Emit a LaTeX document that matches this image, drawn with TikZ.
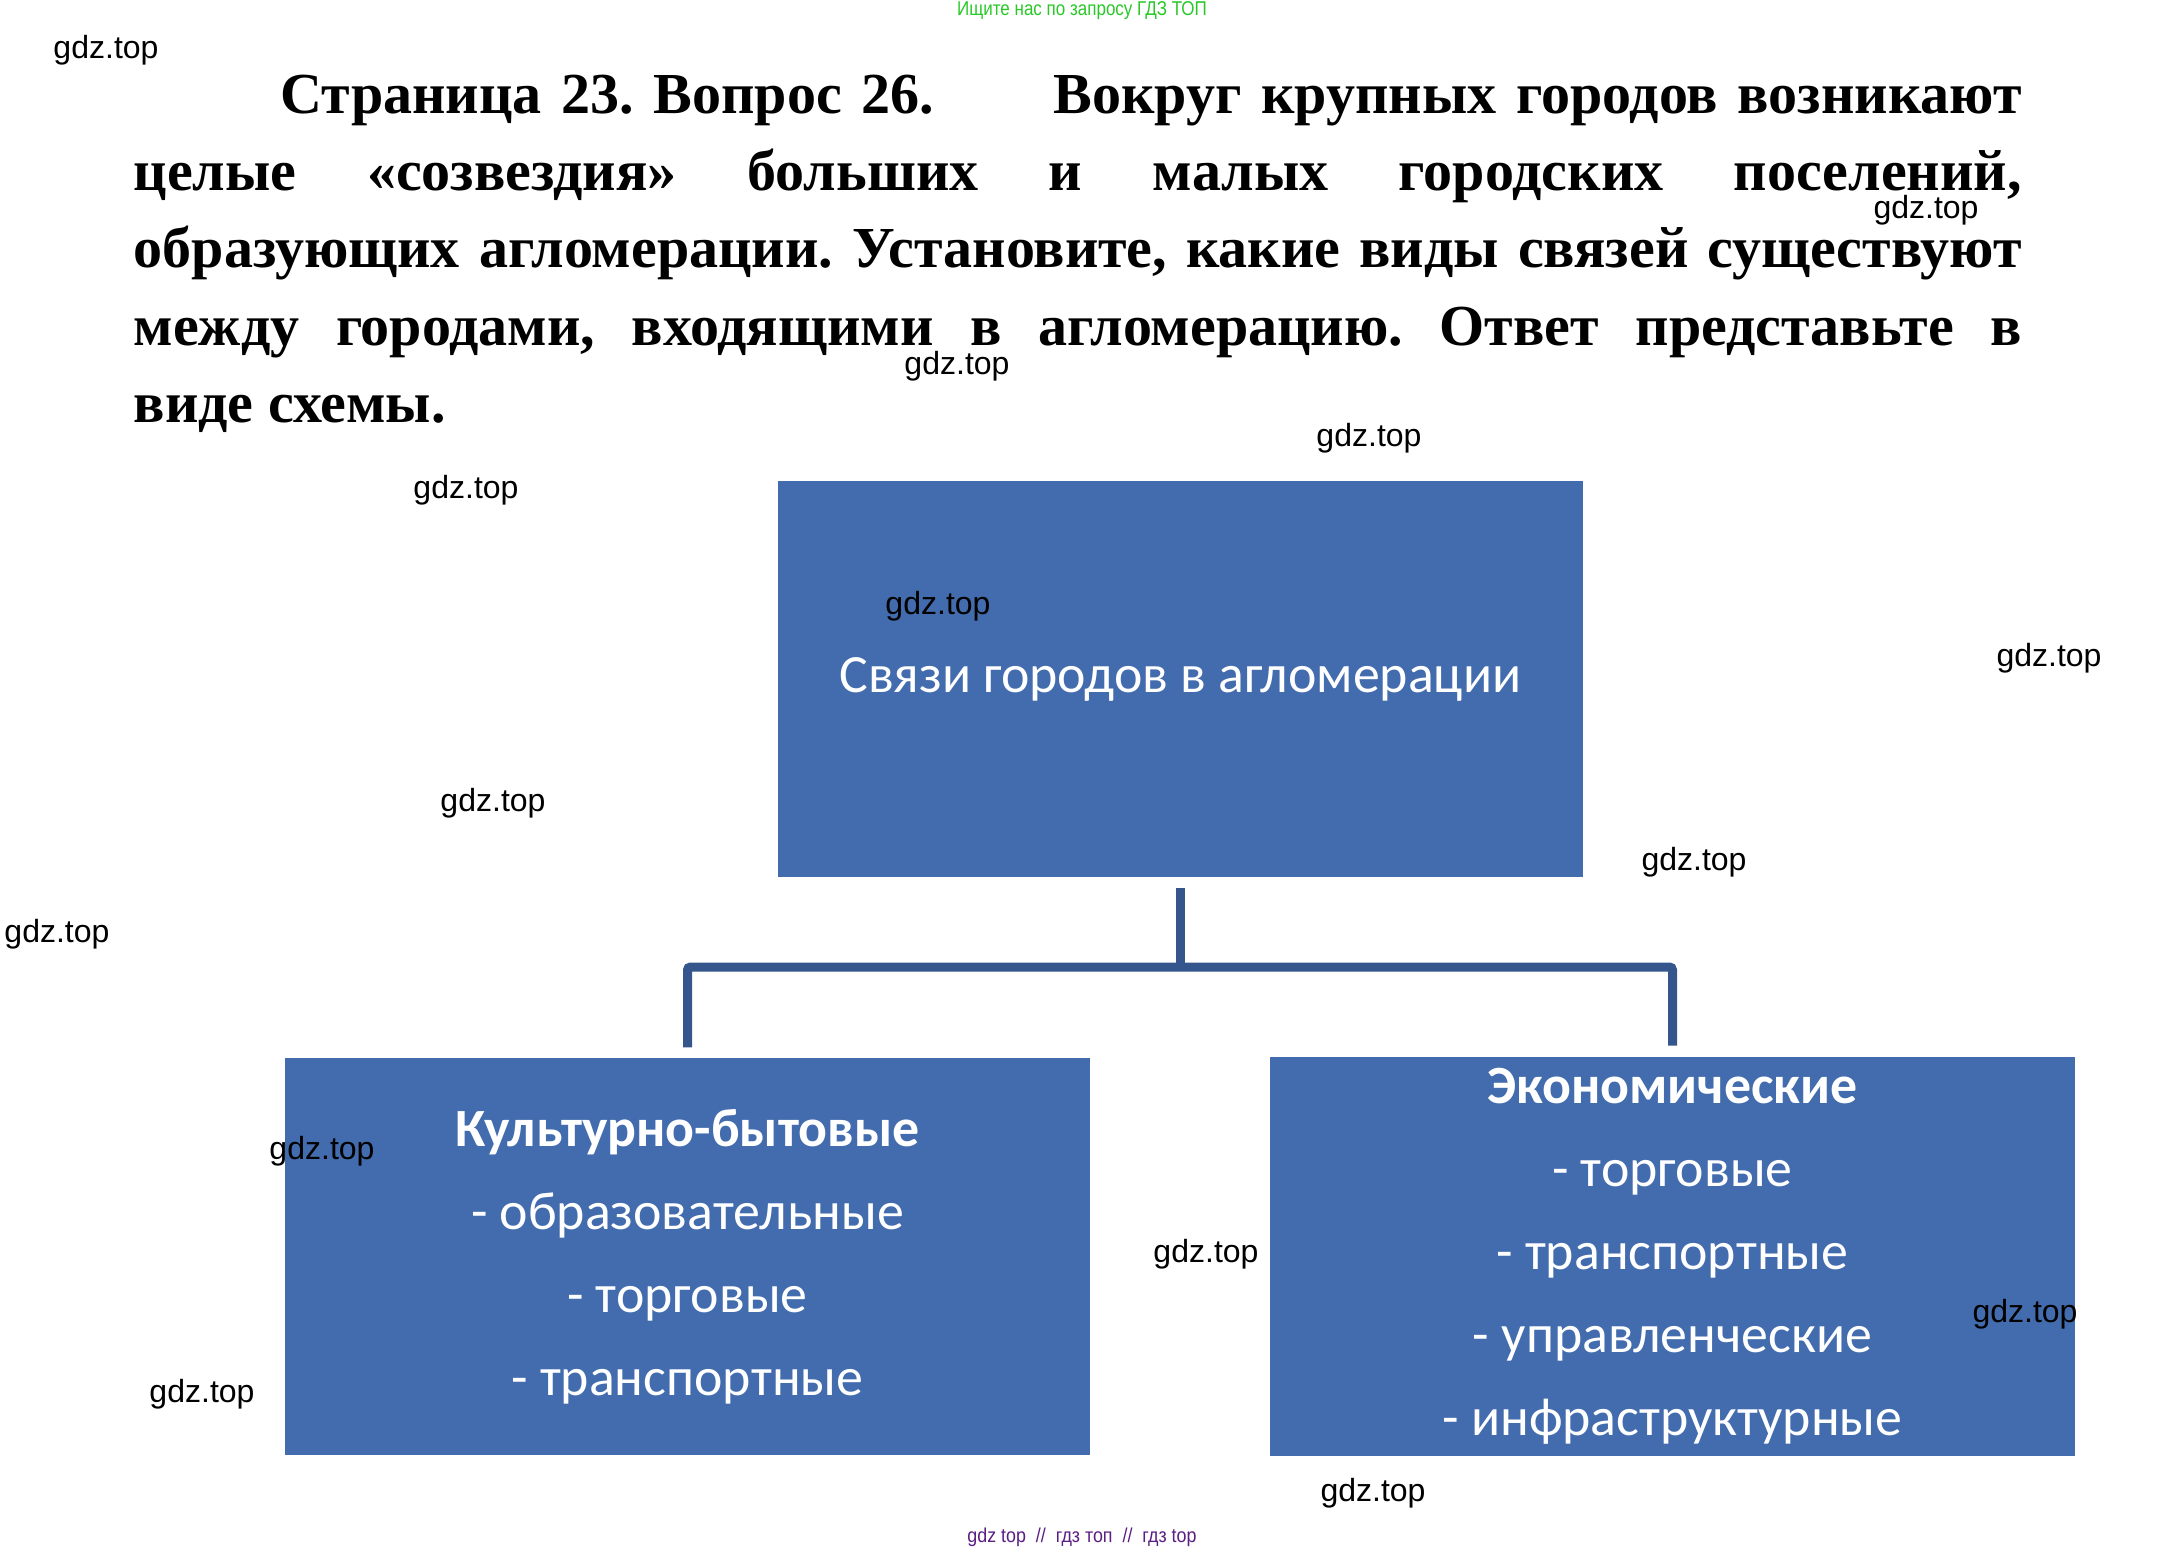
\documentclass[tikz,border=0pt]{standalone}
\usepackage{fontspec}
\setmainfont{Liberation Serif}
\newfontfamily\calibrifont{Carlito}
\newfontfamily\arialfont{Liberation Sans}
\definecolor{boxblue}{RGB}{66,108,174}
\definecolor{linkblue}{RGB}{52,86,140}
\definecolor{adgreen}{RGB}{40,200,40}
\definecolor{adpurple}{RGB}{90,30,130}
\frenchspacing

\begin{document}
\begin{tikzpicture}[
    x=0.01cm, y=-0.01cm,
    topic/.style={rectangle, fill=boxblue, minimum width=8.05cm, minimum height=3.96cm, outer sep=0.11cm, text=white, align=center, font=\calibrifont\fontsize{0.538cm}{0.83cm}\selectfont},
    link/.style={draw=linkblue, line width=0.09cm, rounded corners=0.03cm},
    wm/.style={font=\arialfont\fontsize{0.32cm}{0.38cm}\selectfont, inner sep=0pt},
    ad/.style={font=\arialfont\fontsize{0.2cm}{0.24cm}\selectfont, inner sep=0pt, xscale=0.85}
]
\useasboundingbox (0,0) rectangle (2166,1553);

\node[ad, text=adgreen] (header) at (1082,11) {Ищите нас по запросу ГДЗ ТОП};

\node[anchor=base west, text width=18.87cm, align=justify, inner sep=0pt,
      font=\bfseries\fontsize{0.58cm}{0.774cm}\selectfont] (task) at (133,113) {%
\hspace*{1.47cm}Страница 23. Вопрос 26.\hspace{1.0cm} Вокруг крупных городов возникают\linebreak
целые «созвездия» больших и малых городских поселений,\linebreak
образующих агломерации. Установите, какие виды связей существуют\linebreak
между городами, входящими в агломерацию. Ответ представьте в\linebreak
виде схемы.};

\node[topic] (root) at (1180.5,679) {Связи городов в агломерации};
\node[topic] (cult) at (687.5,1256.5) {\textbf{Культурно-бытовые}\\- образовательные\\- торговые\\- транспортные};
\node[topic] (econ) at (1672.5,1256.5) {\textbf{Экономические}\\- торговые\\- транспортные\\- управленческие\\- инфраструктурные};

\coordinate (hub) at (1180.5,967);
\draw[link] (root.south) -- (hub);
\draw[link] (cult.north) |- (hub) -| (econ.north);

% watermarks
\foreach \px/\py [count=\i] in {106/50, 1926/210, 957/366, 1369/438, 466/490,
    938/606, 2049/658, 493/803, 1694/862, 57/934, 322/1151, 1206/1254,
    2025/1314, 202/1394, 1373/1493}
  \node[wm] (wm\i) at (\px,\py) {gdz.top};

\node[ad, text=adpurple, xscale=1.05] (footer) at (1082,1537) {gdz top \ // \ гдз топ \ // \ гдз top};
\end{tikzpicture}
\end{document}
